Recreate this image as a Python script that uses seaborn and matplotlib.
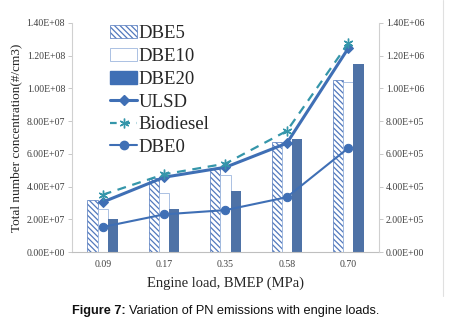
import numpy as np
import pandas as pd
import seaborn as sns
import matplotlib.pyplot as plt
from matplotlib.ticker import FuncFormatter
from matplotlib.lines import Line2D
from matplotlib.patches import Patch

# data
loads = ['0.09', '0.17', '0.35', '0.58', '0.70']
dbe5 = [3.2e7, 4.5e7, 5.05e7, 6.7e7, 1.05e8]
dbe10 = [2.6e7, 3.6e7, 4.7e7, 6.6e7, 1.04e8]
dbe20 = [2.0e7, 2.6e7, 3.7e7, 6.9e7, 1.15e8]
ulsd = [3.05e5, 4.57e5, 5.18e5, 6.65e5, 1.245e6]
biodiesel = [3.5e5, 4.75e5, 5.4e5, 7.4e5, 1.275e6]
dbe0 = [1.53e5, 2.3e5, 2.56e5, 3.35e5, 6.35e5]

blue = '#3F6FB5'
hatch_blue = '#5279BD'
teal = '#3596AA'
light = '#9DB7DE'
serif = 'Liberation Serif'
tick_col = '#404040'

bars = pd.DataFrame({
    'load': loads * 3,
    'pn': dbe5 + dbe10 + dbe20,
    'fuel': ['DBE5'] * 5 + ['DBE10'] * 5 + ['DBE20'] * 5,
})

sns.set_style('white')
plt.rcParams['hatch.linewidth'] = 0.9

fig = plt.figure(figsize=(4.56, 3.18), dpi=100)
ax = fig.add_axes([0.158, 0.2075, 0.673, 0.7205])

sns.barplot(data=bars, x='load', y='pn', hue='fuel', order=loads,
            hue_order=['DBE5', 'DBE10', 'DBE20'],
            palette={'DBE5': 'white', 'DBE10': 'white', 'DBE20': blue},
            width=0.5, gap=0, legend=False, ax=ax)

for i, cont in enumerate(ax.containers):
    for p in cont:
        if i == 0:
            p.set_hatch('\\\\\\\\\\\\')
            p.set_edgecolor(hatch_blue)
            p.set_linewidth(0.5)
        elif i == 1:
            p.set_edgecolor(light)
            p.set_linewidth(0.6)
        else:
            p.set_edgecolor(blue)
            p.set_linewidth(0)

ax2 = ax.twinx()
x = np.arange(len(loads))
sns.lineplot(x=x, y=ulsd, color=blue, lw=2.2, marker='D', ms=5,
             mec=blue, ax=ax2)
sns.lineplot(x=x, y=biodiesel, color=teal, lw=1.6, ls=(0, (4, 3)),
             marker=(6, 2, 0), ms=7, mec=teal, mew=1, ax=ax2)
sns.lineplot(x=x, y=dbe0, color=blue, lw=1.5, marker='o', ms=6,
             mec=blue, ax=ax2)

ax.set_ylim(0, 1.4e8)
ax2.set_ylim(0, 1.4e6)
ax.set_xlim(-0.5, len(loads) - 0.5)
ax.set_yticks(np.arange(0, 1.41e8, 2e7))
ax2.set_yticks(np.arange(0, 1.41e6, 2e5))
fmt = FuncFormatter(lambda v, p: f'{v:.2E}')
ax.yaxis.set_major_formatter(fmt)
ax2.yaxis.set_major_formatter(fmt)

for a in (ax, ax2):
    for s in a.spines.values():
        s.set_visible(False)
    a.tick_params(labelsize=7, labelcolor=tick_col, length=3,
                  color='#BFBFBF', width=0.6, pad=2)
    for lab in a.get_yticklabels() + a.get_xticklabels():
        lab.set_fontfamily(serif)
ax.tick_params(axis='x', length=0, pad=6)
ax.spines['left'].set_visible(True)
ax.spines['bottom'].set_visible(True)
ax2.spines['right'].set_visible(True)
ax.spines['left'].set_color('#D0D0D0')
ax.spines['bottom'].set_color('#BFBFBF')
ax2.spines['right'].set_color('#D0D0D0')
ax.tick_params(axis='y', left=True)
ax2.tick_params(axis='y', right=True)

ax.set_xlabel('Engine load, BMEP (MPa)', fontsize=10.5, family=serif,
              color='#262626', labelpad=5)
ax.set_ylabel('Total number concentration(#/cm3)', fontsize=9.5,
              family=serif, color='#262626', labelpad=3)
ax2.set_ylabel('')

handles = [
    Patch(facecolor='white', edgecolor=hatch_blue, hatch='\\\\\\\\\\\\', lw=0.5),
    Patch(facecolor='white', edgecolor=light, lw=0.6),
    Patch(facecolor=blue, edgecolor=blue),
    Line2D([], [], color=blue, lw=2.2, marker='D', ms=5),
    Line2D([], [], color=teal, lw=1.6, ls=(0, (3, 3)), marker=(6, 2, 0), ms=7),
    Line2D([], [], color=blue, lw=1.5, marker='o', ms=6),
]
names = ['DBE5', 'DBE10', 'DBE20', 'ULSD', 'Biodiesel', 'DBE0']
ax2.legend(handles, names, loc='upper left', bbox_to_anchor=(0.125, 0.99),
           frameon=False, prop={'family': serif, 'size': 13.5},
           handlelength=1.4, handletextpad=0.12, labelspacing=0.3,
           borderpad=0, borderaxespad=0)

# outer frame edge on the right
fig.add_artist(Line2D([0.972, 0.972], [0.07, 1.0], color='#E0E0E0', lw=0.8))

# caption with bold prefix
fig.canvas.draw()
t1 = fig.text(0.158, 0.012, 'Figure 7:', fontsize=9.2, fontweight='bold',
              family='Liberation Sans', color='#111111')
bb = t1.get_window_extent(fig.canvas.get_renderer())
fig.text((bb.x1 + 3) / fig.bbox.width, 0.012,
         'Variation of PN emissions with engine loads.', fontsize=9.2,
         family='Liberation Sans', color='#111111')

fig.savefig('out.png', dpi=100)
